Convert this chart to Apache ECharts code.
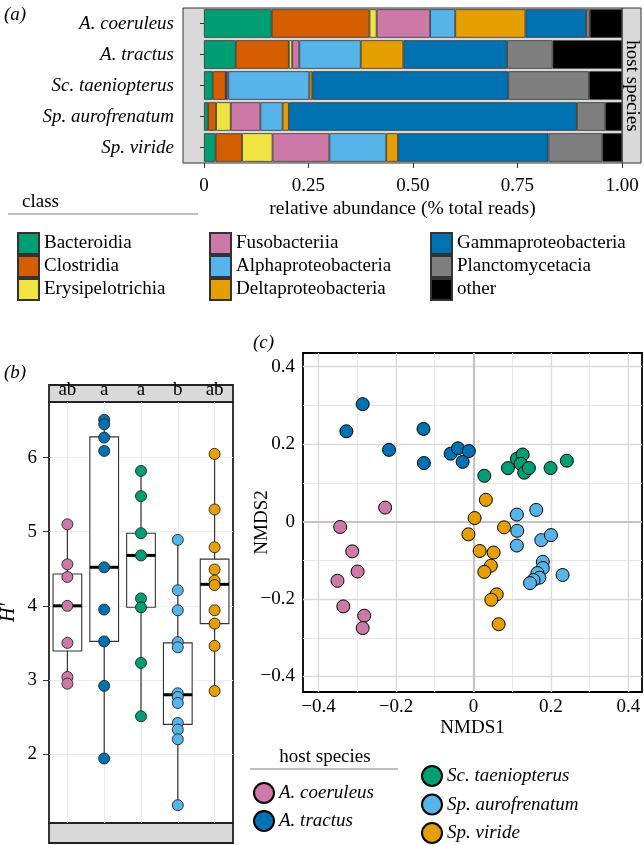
<!DOCTYPE html>
<html><head><meta charset="utf-8">
<script src="https://cdn.jsdelivr.net/npm/echarts@6/dist/echarts.min.js"></script>
<style>html,body{margin:0;padding:0;background:#fff}#c{width:644px;height:845px}</style>
</head><body><div id="c"></div>
<script>
const FONT = '"Liberation Serif", "Times New Roman", serif';

// ---------- shared ----------
const hostSpecies = ['A. coeruleus', 'A. tractus', 'Sc. taeniopterus', 'Sp. aurofrenatum', 'Sp. viride'];
const hostColors = ['#CC79A7', '#0072B2', '#009E73', '#56B4E9', '#E69F00'];

// ---------- (a) relative abundance by class (host species order) ----------
const classNames = ['Bacteroidia', 'Clostridia', 'Erysipelotrichia', 'Fusobacteriia', 'Alphaproteobacteria',
  'Deltaproteobacteria', 'Gammaproteobacteria', 'Planctomycetacia', 'other'];
const classColors = ['#009E73', '#D55E00', '#F0E442', '#CC79A7', '#56B4E9', '#E69F00', '#0072B2', '#7F7F7F', '#000000'];
const bacteroidia         = [0.162, 0.076, 0.021, 0.010, 0.028];
const clostridia          = [0.234, 0.127, 0.031, 0.019, 0.063];
const erysipelotrichia    = [0.017, 0.008, 0.001, 0.035, 0.073];
const fusobacteriia       = [0.128, 0.017, 0.005, 0.071, 0.136];
const alphaproteobacteria = [0.060, 0.147, 0.194, 0.053, 0.136];
const deltaproteobacteria = [0.168, 0.102, 0.007, 0.015, 0.028];
const gammaproteobacteria = [0.145, 0.248, 0.469, 0.689, 0.360];
const planctomycetacia    = [0.009, 0.109, 0.193, 0.068, 0.129];
const otherClass          = [0.077, 0.166, 0.079, 0.040, 0.047];
const classValues = [bacteroidia, clostridia, erysipelotrichia, fusobacteriia, alphaproteobacteria,
  deltaproteobacteria, gammaproteobacteria, planctomycetacia, otherClass];
const abundanceTicks = [0, 0.25, 0.5, 0.75, 1];

// ---------- (b) Shannon diversity H' ----------
const groupLetters = ['ab', 'a', 'a', 'b', 'ab'];
const hCoeruleus = [5.10, 4.56, 4.39, 4.00, 3.50, 3.04, 2.95];
const hTractus = [6.51, 6.45, 6.27, 6.09, 4.52, 3.95, 3.52, 2.92, 1.94];
const hTaeniopterus = [5.82, 5.48, 4.98, 4.68, 4.10, 3.98, 3.23, 2.51];
const hAurofrenatum = [4.89, 4.21, 3.94, 3.51, 3.44, 2.82, 2.77, 2.69, 2.42, 2.33, 2.20, 1.31];
const hViride = [6.05, 5.30, 4.79, 4.49, 4.34, 4.28, 3.94, 3.76, 3.46, 2.85];
const hValues = [hCoeruleus, hTractus, hTaeniopterus, hAurofrenatum, hViride];
// box statistics: [lower whisker, Q1, median, Q3, upper whisker]
const boxCoeruleus = [2.95, 3.39, 4.00, 4.43, 5.10];
const boxTractus = [1.94, 3.52, 4.52, 6.28, 6.51];
const boxTaeniopterus = [2.51, 3.98, 4.68, 4.98, 5.82];
const boxAurofrenatum = [1.31, 2.40, 2.80, 3.50, 4.89];
const boxViride = [2.85, 3.76, 4.29, 4.63, 6.05];
const boxStats = [boxCoeruleus, boxTractus, boxTaeniopterus, boxAurofrenatum, boxViride];
const diversityTicks = [2, 3, 4, 5, 6];

// ---------- (c) NMDS ----------
const nmdsCoeruleus = [[-0.228, 0.036], [-0.344, -0.014], [-0.313, -0.077], [-0.299, -0.129], [-0.351, -0.153],
  [-0.336, -0.219], [-0.282, -0.243], [-0.286, -0.275]];
const nmdsTractus = [[-0.286, 0.303], [-0.328, 0.233], [-0.218, 0.185], [-0.129, 0.239], [-0.128, 0.151],
  [-0.059, 0.175], [-0.040, 0.189], [-0.028, 0.154], [-0.012, 0.182]];
const nmdsTaeniopterus = [[0.028, 0.118], [0.089, 0.138], [0.112, 0.162], [0.127, 0.173], [0.122, 0.149],
  [0.131, 0.126], [0.143, 0.138], [0.199, 0.138], [0.241, 0.157]];
const nmdsAurofrenatum = [[0.112, 0.018], [0.162, 0.030], [0.113, -0.024], [0.112, -0.062], [0.175, -0.048],
  [0.200, -0.035], [0.179, -0.104], [0.179, -0.120], [0.165, -0.133], [0.170, -0.145], [0.155, -0.151],
  [0.146, -0.159], [0.230, -0.138]];
const nmdsViride = [[0.032, 0.056], [0.003, 0.009], [-0.013, -0.033], [0.079, -0.015], [0.016, -0.076],
  [0.052, -0.080], [0.045, -0.114], [0.028, -0.130], [0.060, -0.188], [0.046, -0.202], [0.065, -0.265]];
const nmdsPoints = [nmdsCoeruleus, nmdsTractus, nmdsTaeniopterus, nmdsAurofrenatum, nmdsViride];
const nmdsTicks = [-0.4, -0.2, 0, 0.2, 0.4];
const nmdsMinor = [-0.3, -0.1, 0.1, 0.3];
const nmdsMajor = [-0.4, -0.2, 0.2, 0.4];

// ---------- chart ----------
const chart = echarts.init(document.getElementById('c'), null, {renderer: 'canvas'});
const txt = (size, italic) => ({fontFamily: FONT, fontSize: size, color: '#000', fontStyle: italic ? 'italic' : 'normal'});
const minusFmt = v => (v === 0 ? '0' : String(+v.toFixed(1)).replace('-', '\u2212'));

const series = [];
// (a) stacked bars
classNames.forEach((n, i) => {
  series.push({
    type: 'bar', name: n, xAxisIndex: 0, yAxisIndex: 0, stack: 'abund', barWidth: '92%',
    data: classValues[i], itemStyle: {color: classColors[i], borderColor: '#333', borderWidth: 0.8},
    z: 3
  });
});
// (b) grid lines
series.push({
  type: 'scatter', xAxisIndex: 1, yAxisIndex: 1, data: [], z: 1, silent: true,
  markLine: {
    silent: true, symbol: 'none', label: {show: false}, animation: false,
    lineStyle: {color: '#ebebeb', width: 1, type: 'solid'},
    data: diversityTicks.map(v => ({yAxis: v})).concat(hostSpecies.map(s => ({xAxis: s})))
  }
});
// (b) boxes
series.push({
  type: 'custom', xAxisIndex: 1, yAxisIndex: 1, z: 6, silent: true,
  encode: {x: 0, y: [1, 2, 3, 4, 5]},
  data: boxStats.map((s, i) => [i].concat(s)),
  renderItem: (params, api) => {
    const x = api.value(0);
    const pMin = api.coord([x, api.value(1)]);
    const pQ1 = api.coord([x, api.value(2)]);
    const pMed = api.coord([x, api.value(3)]);
    const pQ3 = api.coord([x, api.value(4)]);
    const pMax = api.coord([x, api.value(5)]);
    const half = api.size([1, 0])[0] * 0.39;
    return {type: 'group', children: [
      {type: 'line', shape: {x1: pMin[0], y1: pMin[1], x2: pQ1[0], y2: pQ1[1]}, style: {stroke: '#333', lineWidth: 1.2}},
      {type: 'line', shape: {x1: pQ3[0], y1: pQ3[1], x2: pMax[0], y2: pMax[1]}, style: {stroke: '#333', lineWidth: 1.2}},
      {type: 'rect', shape: {x: pQ3[0] - half, y: pQ3[1], width: 2 * half, height: pQ1[1] - pQ3[1]},
        style: {fill: '#fff', stroke: '#333', lineWidth: 1.1}},
      {type: 'line', shape: {x1: pMed[0] - half, y1: pMed[1], x2: pMed[0] + half, y2: pMed[1]},
        style: {stroke: '#000', lineWidth: 3}}
    ]};
  }
});
// (b) points
hostSpecies.forEach((s, i) => {
  series.push({
    type: 'scatter', name: s, xAxisIndex: 1, yAxisIndex: 1, z: 8, symbolSize: 11,
    data: hValues[i].map(v => [i, v]),
    itemStyle: {color: hostColors[i], borderColor: '#222', borderWidth: 0.9, opacity: 1}
  });
});
// (c) grid lines
const gl = (arr, key, color, width) => arr.map(v => ({[key]: v, lineStyle: {color: color, width: width, type: 'solid'}}));
series.push({
  type: 'scatter', xAxisIndex: 2, yAxisIndex: 2, data: [], z: 1, silent: true,
  markLine: {
    silent: true, symbol: 'none', label: {show: false}, animation: false,
    data: [].concat(
      gl(nmdsMinor, 'xAxis', '#e8e8e8', 1), gl(nmdsMinor, 'yAxis', '#e8e8e8', 1),
      gl(nmdsMajor, 'xAxis', '#dadada', 1.4), gl(nmdsMajor, 'yAxis', '#dadada', 1.4),
      gl([0], 'xAxis', '#c4c4c4', 2.2), gl([0], 'yAxis', '#c4c4c4', 2.2))
  }
});
// (c) points
hostSpecies.forEach((s, i) => {
  series.push({
    type: 'scatter', name: s, xAxisIndex: 2, yAxisIndex: 2, z: 8, symbolSize: 13,
    data: nmdsPoints[i],
    itemStyle: {color: hostColors[i], borderColor: '#000', borderWidth: 1, opacity: 1}
  });
});

const classLegend = (names, left) => ({
  data: names.map(n => ({name: n, icon: 'rect'})), left: left, top: 232, height: 80, orient: 'vertical',
  itemWidth: 21, itemHeight: 21, itemGap: 0, selectedMode: false, padding: 0,
  textStyle: Object.assign({lineHeight: 21}, txt(19, false))
});
const hostLegend = (names, left, top, gap) => ({
  data: names.map(n => ({name: n, icon: 'circle'})), left: left, top: top, height: 90, orient: 'vertical',
  itemWidth: 20, itemHeight: 20, itemGap: gap, selectedMode: false, padding: 0,
  itemStyle: {borderColor: '#000', borderWidth: 2},
  textStyle: Object.assign({lineHeight: 20}, txt(19, true))
});

const option = {
  animation: false,
  backgroundColor: '#fff',
  grid: [
    {left: 183, top: 8, width: 439, height: 155, show: true, backgroundColor: '#d9d9d9', borderColor: '#333', borderWidth: 1, outerBoundsMode: 'none'},
    {left: 49, top: 402, width: 184, height: 421, show: true, backgroundColor: '#fff', borderColor: '#222', borderWidth: 1.8, outerBoundsMode: 'none'},
    {left: 303, top: 353, width: 339, height: 339, show: true, backgroundColor: '#fff', borderColor: '#000', borderWidth: 1.8, outerBoundsMode: 'none'}
  ],
  xAxis: [
    {gridIndex: 0, type: 'value', min: -0.0502, max: 1,
      axisLine: {show: false}, splitLine: {show: false},
      axisTick: {show: true, length: 5, lineStyle: {color: '#333'}, customValues: abundanceTicks},
      axisLabel: Object.assign({customValues: abundanceTicks, margin: 14, formatter: v => (v === 0 ? '0' : v.toFixed(2))}, txt(19)),
      name: 'relative abundance (% total reads)', nameLocation: 'middle', nameGap: 36, nameMoveOverlap: false,
      nameTextStyle: txt(19.5)},
    {gridIndex: 1, type: 'category', data: hostSpecies, boundaryGap: true,
      axisLine: {show: false}, axisTick: {show: false}, axisLabel: {show: false}, splitLine: {show: false}},
    {gridIndex: 2, type: 'value', min: -0.44, max: 0.435,
      axisLine: {show: false}, splitLine: {show: false},
      axisTick: {show: true, length: 5, lineStyle: {color: '#333'}, customValues: nmdsTicks},
      axisLabel: Object.assign({customValues: nmdsTicks, margin: 6, formatter: minusFmt}, txt(19)),
      name: 'NMDS1', nameLocation: 'middle', nameGap: 27, nameMoveOverlap: false, nameTextStyle: txt(19)},
    {gridIndex: 1, type: 'category', data: hostSpecies, position: 'top', boundaryGap: true,
      axisLine: {show: false}, axisTick: {show: false}, splitLine: {show: false},
      axisLabel: Object.assign({margin: 2, formatter: (v, i) => groupLetters[i]}, txt(19))}
  ],
  yAxis: [
    {gridIndex: 0, type: 'category', data: hostSpecies, inverse: true,
      axisLine: {show: false}, splitLine: {show: false},
      axisTick: {show: true, length: 4, alignWithLabel: true, lineStyle: {color: '#333'}},
      axisLabel: Object.assign({margin: 9}, txt(19, true))},
    {gridIndex: 1, type: 'value', min: 1.07, max: 6.75,
      axisLine: {show: false}, splitLine: {show: false},
      axisTick: {show: true, length: 6, lineStyle: {color: '#333'}, customValues: diversityTicks},
      axisLabel: Object.assign({customValues: diversityTicks, margin: 12}, txt(19)),
      name: 'H\u2032', nameLocation: 'middle', nameGap: 30, nameMoveOverlap: false, nameTextStyle: txt(20, true)},
    {gridIndex: 2, type: 'value', min: -0.44, max: 0.435,
      axisLine: {show: false}, splitLine: {show: false},
      axisTick: {show: true, length: 5, lineStyle: {color: '#333'}, customValues: nmdsTicks},
      axisLabel: Object.assign({customValues: nmdsTicks, margin: 8, formatter: minusFmt}, txt(19)),
      name: 'NMDS2', nameLocation: 'middle', nameGap: 31, nameMoveOverlap: false, nameTextStyle: txt(19)}
  ],
  legend: [
    classLegend(classNames.slice(0, 3), 17),
    classLegend(classNames.slice(3, 6), 209),
    classLegend(classNames.slice(6, 9), 430),
    hostLegend(hostSpecies.slice(0, 2), 253, 782, 6),
    hostLegend(hostSpecies.slice(2, 5), 421, 765, 6.5)
  ],
  graphic: {elements: [
    // (a) facet strip
    {type: 'rect', z: -1, shape: {x: 622, y: 8, width: 19, height: 155}, style: {fill: '#d9d9d9', stroke: '#333', lineWidth: 1}},
    {type: 'text', x: 632, y: 86, rotation: -Math.PI / 2, style: {text: 'host species', fontFamily: FONT, fontSize: 19, fill: '#000', align: 'center', verticalAlign: 'middle'}},
    // (b) strips
    {type: 'rect', z: -1, shape: {x: 49, y: 385, width: 184, height: 17}, style: {fill: '#d9d9d9', stroke: '#222', lineWidth: 1.8}},
    {type: 'rect', z: -1, shape: {x: 49, y: 823, width: 184, height: 20}, style: {fill: '#d9d9d9', stroke: '#222', lineWidth: 1.8}},
    // panel tags
    {type: 'text', x: 4, y: 15, style: {text: '(a)', fontFamily: FONT, fontSize: 19, fontStyle: 'italic', fill: '#000', verticalAlign: 'middle'}},
    {type: 'text', x: 4, y: 373, style: {text: '(b)', fontFamily: FONT, fontSize: 19, fontStyle: 'italic', fill: '#000', verticalAlign: 'middle'}},
    {type: 'text', x: 253, y: 343, style: {text: '(c)', fontFamily: FONT, fontSize: 19, fontStyle: 'italic', fill: '#000', verticalAlign: 'middle'}},
    // legend titles
    {type: 'text', x: 22, y: 202, style: {text: 'class', fontFamily: FONT, fontSize: 19, fill: '#000', verticalAlign: 'middle'}},
    {type: 'line', shape: {x1: 8, y1: 214, x2: 198, y2: 214}, style: {stroke: '#aaa', lineWidth: 1.3}},
    {type: 'text', x: 325, y: 757, style: {text: 'host species', fontFamily: FONT, fontSize: 19, fill: '#000', align: 'center', verticalAlign: 'middle'}},
    {type: 'line', shape: {x1: 250, y1: 769, x2: 398, y2: 769}, style: {stroke: '#aaa', lineWidth: 1.3}}
  ]},
  series: series
};
chart.setOption(option);
</script>
</body></html>
